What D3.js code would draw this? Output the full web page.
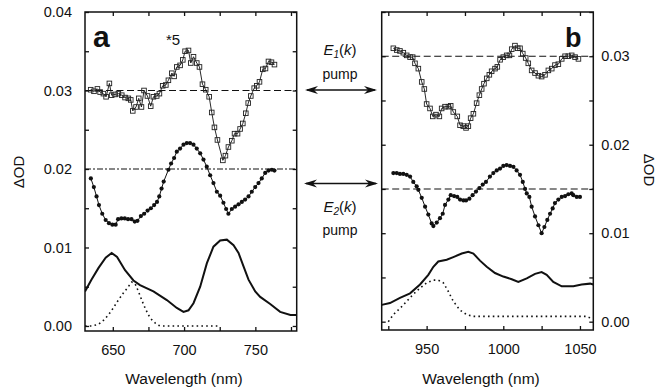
<!DOCTYPE html>
<html><head><meta charset="utf-8">
<script src="https://cdn.jsdelivr.net/npm/d3@7"></script>
<style>body{margin:0;background:#fff}svg{display:block}text{font-family:"Liberation Sans",Arial,sans-serif;fill:#111}</style>
</head><body>
<svg id="c" width="669" height="391"></svg>
<script>
// ---- Panel a data (nm, ΔOD) ----
const aSquaresNm = [634.5,636.8,639.2,641.1,643.4,645.3,647.6,649.2,651.6,653.9,656.3,658.6,660.9,662.6,664.0,666.3,668.2,670.1,671.9,674.3,676.6,678.5,680.8,682.7,685.0,687.2,689.0,691.4,693.0,694.9,697.2,699.1,700.7,703.1,704.7,706.6,708.9,710.8,712.9,715.2,717.6,719.4,721.3,723.4,727.2,729.0,731.1,733.5,735.4,737.5,739.3,741.2,743.3,745.0,746.8,749.2,751.0,752.9,755.2,757.1,759.2,761.3,763.4];
const aSquaresVal = [0.0301,0.0299,0.0302,0.0298,0.0296,0.0292,0.0309,0.0294,0.0295,0.0296,0.0294,0.0291,0.0290,0.0288,0.0274,0.0279,0.0290,0.0279,0.0300,0.0293,0.0280,0.0292,0.0293,0.0296,0.0306,0.0307,0.0313,0.0322,0.0318,0.0330,0.0332,0.0339,0.0350,0.0351,0.0335,0.0343,0.0335,0.0330,0.0308,0.0301,0.0292,0.0272,0.0253,0.0237,0.0211,0.0217,0.0228,0.0236,0.0245,0.0245,0.0251,0.0258,0.0271,0.0284,0.0293,0.0303,0.0306,0.0311,0.0327,0.0328,0.0337,0.0336,0.0333];
const aDotsNm = [634.6,636.7,638.6,640.3,642.6,645.0,647.3,649.7,652.0,653.7,656.0,658.4,660.7,663.1,665.4,667.3,669.7,672.0,674.4,676.7,679.0,681.0,682.6,684.2,685.7,689.0,690.9,693.0,694.9,697.2,699.6,701.9,704.2,706.6,708.9,711.3,713.6,715.9,718.3,720.6,723.0,725.3,727.6,729.5,731.1,733.5,735.8,738.2,740.5,742.8,745.2,747.5,749.9,752.2,754.5,756.9,759.2,761.6,763.4];
const aDotsVal = [0.0188,0.0177,0.0165,0.0154,0.0143,0.0135,0.0131,0.0129,0.0129,0.0136,0.0137,0.0137,0.0136,0.0136,0.0133,0.0134,0.0140,0.0143,0.0147,0.0150,0.0154,0.0158,0.0165,0.0175,0.0184,0.0199,0.0207,0.0214,0.0222,0.0226,0.0231,0.0233,0.0233,0.0231,0.0226,0.0220,0.0212,0.0203,0.0192,0.0182,0.0171,0.0166,0.0157,0.0149,0.0143,0.0149,0.0152,0.0155,0.0158,0.0161,0.0165,0.0171,0.0177,0.0182,0.0188,0.0195,0.0198,0.0199,0.0198];
const aSolidNm = [630.5,635,640,645,649.2,653,658.6,664.5,669.1,678.5,687.9,694.9,699.6,703.1,706.6,711.3,716,720.6,725.3,730,734.7,738.2,741.7,745.2,749.9,753.4,760.4,767.4,774.6,779];
const aSolidVal = [0.0044,0.0059,0.0074,0.0087,0.0093,0.0088,0.0071,0.0058,0.0052,0.0044,0.0033,0.0023,0.0018,0.0020,0.0029,0.0050,0.0080,0.0101,0.0109,0.0110,0.0103,0.0093,0.0076,0.0059,0.0044,0.0037,0.0028,0.0018,0.0014,0.0014];
const aDottedNm = [630.5,635.2,639.9,643.4,646.9,650.4,653.9,657.4,660.9,663.3,665.6,668.0,670.3,672.6,675.0,677.3,680.8,683.2,725.3];
const aDottedVal = [0.0000,0.0000,0.0002,0.0007,0.0014,0.0023,0.0033,0.0042,0.0050,0.0056,0.0054,0.0044,0.0033,0.0023,0.0014,0.0008,0.0002,0.0000,0.0000];

// ---- Panel b data ----
const bSquaresNm = [928.3,930.5,932.6,934.8,937.0,939.2,940.9,942.4,944.6,946.8,948.5,950.0,952.2,954.0,956.1,958.3,959.8,962.0,964.2,965.7,967.4,970.0,971.8,973.9,975.7,977.2,978.7,980.5,982.6,984.4,985.9,987.4,989.2,990.9,992.4,994.6,996.1,997.9,1000.0,1002.2,1004.0,1005.5,1007.6,1009.4,1010.9,1012.7,1014.6,1016.3,1018.5,1020.7,1022.9,1025.0,1027.2,1029.4,1031.6,1033.7,1035.9,1038.1,1040.3,1042.4,1044.6,1046.8,1049.0];
const bSquaresVal = [0.0309,0.0307,0.0306,0.0304,0.0301,0.0299,0.0299,0.0292,0.0286,0.0271,0.0263,0.0246,0.0241,0.0232,0.0234,0.0232,0.0241,0.0243,0.0243,0.0244,0.0237,0.0232,0.0222,0.0221,0.0219,0.0221,0.0230,0.0235,0.0247,0.0256,0.0263,0.0269,0.0275,0.0279,0.0283,0.0286,0.0288,0.0296,0.0299,0.0301,0.0301,0.0308,0.0312,0.0309,0.0309,0.0303,0.0298,0.0292,0.0284,0.0281,0.0278,0.0277,0.0279,0.0284,0.0286,0.0290,0.0291,0.0297,0.0300,0.0300,0.0301,0.0299,0.0297];
const bDotsNm = [928.3,930.5,932.6,934.8,937.0,939.2,941.3,943.5,944.6,946.8,949.0,951.1,953.3,954.4,956.6,958.7,960.5,962.0,964.2,965.7,967.9,970.0,971.8,974.0,975.7,977.9,980.0,982.2,984.4,986.6,988.7,991.3,993.5,995.7,997.9,1000.0,1002.2,1004.4,1006.6,1008.7,1010.9,1012.7,1014.2,1015.3,1017.0,1018.5,1020.7,1022.9,1025.0,1026.8,1028.7,1030.5,1032.2,1033.7,1035.9,1038.1,1040.3,1042.4,1044.6,1045.7,1047.9,1050.0];
const bDotsVal = [0.0168,0.0168,0.0167,0.0167,0.0166,0.0164,0.0158,0.0153,0.0149,0.0140,0.0130,0.0121,0.0111,0.0108,0.0112,0.0117,0.0122,0.0132,0.0138,0.0143,0.0142,0.0141,0.0138,0.0137,0.0137,0.0139,0.0143,0.0147,0.0151,0.0155,0.0158,0.0164,0.0168,0.0171,0.0173,0.0176,0.0177,0.0176,0.0175,0.0171,0.0166,0.0158,0.0150,0.0145,0.0141,0.0130,0.0119,0.0109,0.0100,0.0107,0.0115,0.0122,0.0128,0.0134,0.0138,0.0141,0.0142,0.0144,0.0145,0.0143,0.0141,0.0141];
const bSolidNm = [920.7,926.1,932.6,939.2,945.7,951.1,954.4,957.6,963.1,967.4,972.9,977.2,980.5,984.8,989.2,994.6,1000,1005.5,1009.8,1015.3,1020.7,1025,1028.3,1032.6,1038.1,1045.7,1051.1,1056.6,1058.7];
const bSolidVal = [0.0019,0.0021,0.0027,0.0032,0.0042,0.0053,0.0062,0.0068,0.0070,0.0073,0.0077,0.0079,0.0077,0.0069,0.0062,0.0055,0.0051,0.0048,0.0045,0.0049,0.0054,0.0056,0.0053,0.0045,0.0040,0.0040,0.0042,0.0043,0.0042];
const bDottedNm = [925.0,928.3,932.6,937.0,941.3,945.7,950.0,954.4,957.6,960.9,964.2,967.4,971.8,976.1,980.5,1006.6,1054.4,1058.3];
const bDottedVal = [0.0000,0.0008,0.0015,0.0023,0.0031,0.0038,0.0044,0.0047,0.0047,0.0044,0.0034,0.0023,0.0013,0.0008,0.0006,0.0006,0.0006,0.0003];

// ---- tick values ----
const aXTicks = [650,675,700,725,750,775];
const aXLabels = [650,700,750];
const bXTicks = [925,950,975,1000,1025,1050];
const bXLabels = [950,1000,1050];
const aYTicks = [0,0.005,0.01,0.015,0.02,0.025,0.03,0.035,0.04];
const aYLabels = [0,0.01,0.02,0.03,0.04];
const bYTicks = [0,0.005,0.01,0.015,0.02,0.025,0.03,0.035];
const bYLabels = [0,0.01,0.02,0.03];
const aRefLines = [0.03,0.02];
const bRefLines = [0.03,0.015];

const svg = d3.select("#c");
const fmt = d3.format(".2f");
const zip = (xs, ys) => xs.map((x,i)=>[x, ys[i]]);

function panel(id, xs, ys, xTicks, xLabels, yTicks, yLabels, labelSide){
  const [x0,x1] = xs.range(); const [yb,yt] = ys.range();
  svg.append("clipPath").attr("id",id).append("rect").attr("x",x0).attr("y",yt).attr("width",x1-x0).attr("height",yb-yt);
  const isLab = (arr)=> v => arr.some(a=>Math.abs(a-v)<1e-9);
  // bottom
  const gb = svg.append("g").attr("transform",`translate(0,${yb})`)
    .call(d3.axisBottom(xs).tickValues(xTicks).tickSize(-4).tickPadding(14)
      .tickFormat(v => isLab(xLabels)(v) ? String(v) : ""));
  // top
  const gt = svg.append("g").attr("transform",`translate(0,${yt})`)
    .call(d3.axisTop(xs).tickValues(xTicks).tickSize(-4).tickFormat(""));
  // left / right
  const gl = svg.append("g").attr("transform",`translate(${x0},0)`)
    .call(d3.axisLeft(ys).tickValues(yTicks).tickSize(-4).tickPadding(13)
      .tickFormat(v => (labelSide==="left" && isLab(yLabels)(v)) ? fmt(v) : ""));
  const gr = svg.append("g").attr("transform",`translate(${x1},0)`)
    .call(d3.axisRight(ys).tickValues(yTicks).tickSize(-4).tickPadding(8)
      .tickFormat(v => (labelSide==="right" && isLab(yLabels)(v)) ? fmt(v) : ""));
  [gb,gt,gl,gr].forEach(g=>{
    g.select(".domain").remove();
    g.selectAll("line").attr("stroke","#111").attr("stroke-width",1.3);
    g.selectAll("text").style("font-size","14.5px").attr("fill","#111");
  });
  svg.append("rect").attr("x",x0).attr("y",yt).attr("width",x1-x0).attr("height",yb-yt)
    .attr("fill","none").attr("stroke","#111").attr("stroke-width",1.5);
  return svg.append("g").attr("clip-path",`url(#${id})`);
}

function series(g, xs, ys, nm, val, opt){
  const line = d3.line().x(d=>xs(d[0])).y(d=>ys(d[1]));
  const data = zip(nm,val);
  g.append("path").datum(data).attr("d",line).attr("fill","none")
    .attr("stroke","#111").attr("stroke-width",opt.w).attr("stroke-dasharray",opt.dash||null)
    .attr("stroke-linecap",opt.cap||"butt");
  if(opt.marker==="square"){
    g.selectAll(null).data(data).enter().append("rect")
      .attr("x",d=>xs(d[0])-2.3).attr("y",d=>ys(d[1])-2.3).attr("width",4.6).attr("height",4.6)
      .attr("fill","none").attr("stroke","#222").attr("stroke-width",0.9);
  } else if(opt.marker==="circle"){
    g.selectAll(null).data(data).enter().append("circle")
      .attr("cx",d=>xs(d[0])).attr("cy",d=>ys(d[1])).attr("r",2.1).attr("fill","#111");
  }
}

// ---- Panel a ----
const xa = d3.scaleLinear().domain([630.5,779]).range([85,296.7]);
const ya = d3.scaleLinear().domain([-0.00064,0.04]).range([331,12]);
const ga = panel("clipA", xa, ya, aXTicks, aXLabels, aYTicks, aYLabels, "left");
ga.selectAll(null).data(aRefLines).enter().append("line")
  .attr("x1",xa.range()[0]).attr("x2",xa.range()[1]).attr("y1",d=>ya(d)).attr("y2",d=>ya(d))
  .attr("stroke","#111").attr("stroke-width",1.1).attr("stroke-dasharray",(d,i)=> i===0 ? "7,3.5" : "6,2,2,2");
series(ga, xa, ya, aSolidNm, aSolidVal, {w:2});
series(ga, xa, ya, aDottedNm, aDottedVal, {w:1.6, dash:"1.6,3.2"});
series(ga, xa, ya, aDotsNm, aDotsVal, {w:1, marker:"circle"});
series(ga, xa, ya, aSquaresNm, aSquaresVal, {w:0.9, marker:"square"});

// ---- Panel b ----
const xb = d3.scaleLinear().domain([920.7,1058.7]).range([381.7,593.3]);
const yb = d3.scaleLinear().domain([-0.00094,0.035]).range([330,12]);
const gbp = panel("clipB", xb, yb, bXTicks, bXLabels, bYTicks, bYLabels, "right");
gbp.selectAll(null).data(bRefLines).enter().append("line")
  .attr("x1",xb.range()[0]).attr("x2",xb.range()[1]).attr("y1",d=>yb(d)).attr("y2",d=>yb(d))
  .attr("stroke","#111").attr("stroke-width",1.1).attr("stroke-dasharray","7,3.5");
series(gbp, xb, yb, bSolidNm, bSolidVal, {w:2});
series(gbp, xb, yb, bDottedNm, bDottedVal, {w:1.6, dash:"1.6,3.2"});
series(gbp, xb, yb, bDotsNm, bDotsVal, {w:1, marker:"circle"});
series(gbp, xb, yb, bSquaresNm, bSquaresVal, {w:0.9, marker:"square"});

// ---- labels ----
svg.append("text").attr("x",184).attr("y",384).attr("text-anchor","middle").style("font-size","15.5px").text("Wavelength (nm)");
svg.append("text").attr("x",481).attr("y",384).attr("text-anchor","middle").style("font-size","15.5px").text("Wavelength (nm)");
svg.append("text").attr("transform","translate(24,172) rotate(-90)").attr("text-anchor","middle").style("font-size","15px").text("ΔOD");
svg.append("text").attr("transform","translate(644,170) rotate(90)").attr("text-anchor","middle").style("font-size","15px").text("ΔOD");
svg.append("text").attr("x",93).attr("y",47).style("font-size","30px").style("font-weight","bold").text("a");
svg.append("text").attr("x",565).attr("y",47).style("font-size","27px").style("font-weight","bold").text("b");
svg.append("text").attr("x",166).attr("y",45).style("font-size","15px").text("*5");

function eLabel(y, sub){
  const t = svg.append("text").attr("x",340).attr("y",y).attr("text-anchor","middle").style("font-size","15px");
  t.append("tspan").style("font-style","italic").text("E");
  t.append("tspan").style("font-style","italic").style("font-size","10px").attr("dy",3).text(sub);
  t.append("tspan").attr("dy",-3).text("(");
  t.append("tspan").style("font-style","italic").text("k");
  t.append("tspan").text(")");
}
eLabel(55,"1");
eLabel(212,"2");
svg.append("text").attr("x",340).attr("y",79).attr("text-anchor","middle").style("font-size","14px").text("pump");
svg.append("text").attr("x",340).attr("y",235).attr("text-anchor","middle").style("font-size","14px").text("pump");

function arrow(xL, xR, y){
  const g = svg.append("g");
  g.append("line").attr("x1",xL+2).attr("x2",xR-2).attr("y1",y).attr("y2",y).attr("stroke","#111").attr("stroke-width",1.4);
  g.append("path").attr("d",`M${xL},${y} L${xL+13},${y-4} L${xL+9},${y} L${xL+13},${y+4} Z`).attr("fill","#111");
  g.append("path").attr("d",`M${xR},${y} L${xR-13},${y-4} L${xR-9},${y} L${xR-13},${y+4} Z`).attr("fill","#111");
}
arrow(305, 377, 90);
arrow(304, 378, 183.5);
</script>
</body></html>
